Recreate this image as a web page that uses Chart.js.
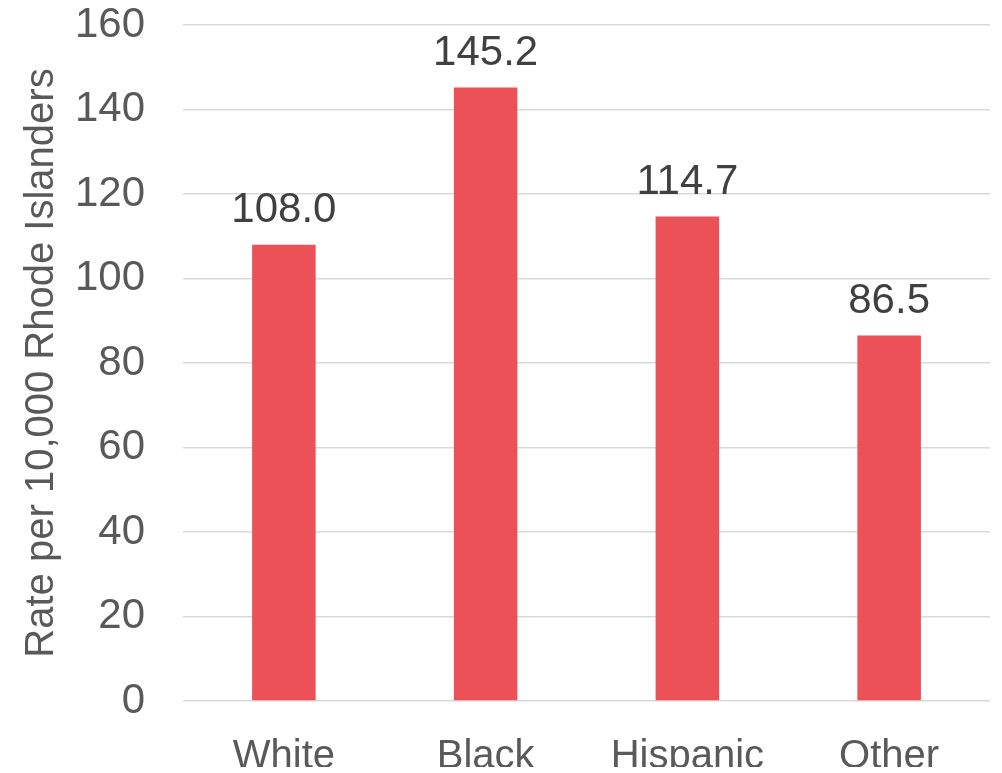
<!DOCTYPE html>
<html>
<head>
<meta charset="utf-8">
<script src="https://cdn.jsdelivr.net/npm/chart.js@4/dist/chart.umd.min.js"></script>
<style>
  html, body { margin: 0; padding: 0; background: #fff; }
  #wrap { width: 1002px; height: 773px; }
</style>
</head>
<body>
<div id="wrap"><canvas id="rateChart" width="1002" height="773"></canvas></div>
<script>
const groups = ['White', 'Black', 'Hispanic', 'Other'];
const rates = [108.0, 145.2, 114.7, 86.5];
const yTicks = [0, 20, 40, 60, 80, 100, 120, 140, 160];

const fontFamily = '"Liberation Sans", Arial, sans-serif';

// draws the value above each bar
const barValues = {
    id: 'barValues',
    afterDatasetsDraw(chart) {
        const ctx = chart.ctx;
        const meta = chart.getDatasetMeta(0);
        ctx.save();
        ctx.font = '42px ' + fontFamily;
        ctx.fillStyle = '#404040';
        ctx.textAlign = 'center';
        ctx.textBaseline = 'bottom';
        meta.data.forEach((bar, i) => {
            ctx.fillText(rates[i].toFixed(1), bar.x, bar.y - 13);
        });
        ctx.restore();
    },
};

const ctx = document.getElementById('rateChart').getContext('2d');
new Chart(ctx, {
    type: 'bar',
    data: {
        labels: groups,
        datasets: [
            {
                label: 'Rate',
                data: rates,
                backgroundColor: '#EB5157',
                categoryPercentage: 1,
                barPercentage: 0.315,
            },
        ],
    },
    options: {
        responsive: false,
        animation: false,
        layout: {
            padding: { top: 0, right: 12, bottom: 6, left: 18 },
        },
        plugins: {
            legend: { display: false },
            tooltip: { enabled: false },
        },
        scales: {
            x: {
                grid: { display: false },
                border: { display: false },
                ticks: {
                    color: '#595959',
                    font: { family: fontFamily, size: 40 },
                    padding: 24,
                },
                afterFit(scale) {
                    scale.height = 66;
                },
            },
            y: {
                min: 0,
                max: 160,
                afterBuildTicks(scale) {
                    scale.ticks = yTicks.map((v) => ({ value: v }));
                },
                grid: {
                    color: '#d9d9d9',
                    lineWidth: 1.5,
                    drawTicks: false,
                },
                border: { display: false },
                ticks: {
                    color: '#595959',
                    font: { family: fontFamily, size: 42 },
                    padding: 38,
                },
                title: {
                    display: true,
                    text: 'Rate per 10,000 Rhode Islanders',
                    color: '#595959',
                    font: { family: fontFamily, size: 40 },
                    padding: 0,
                },
                afterFit(scale) {
                    scale.width = 165;
                    scale.paddingTop = 25;
                    scale.paddingBottom = 0;
                },
            },
        },
    },
    plugins: [barValues],
});
</script>
</body>
</html>
